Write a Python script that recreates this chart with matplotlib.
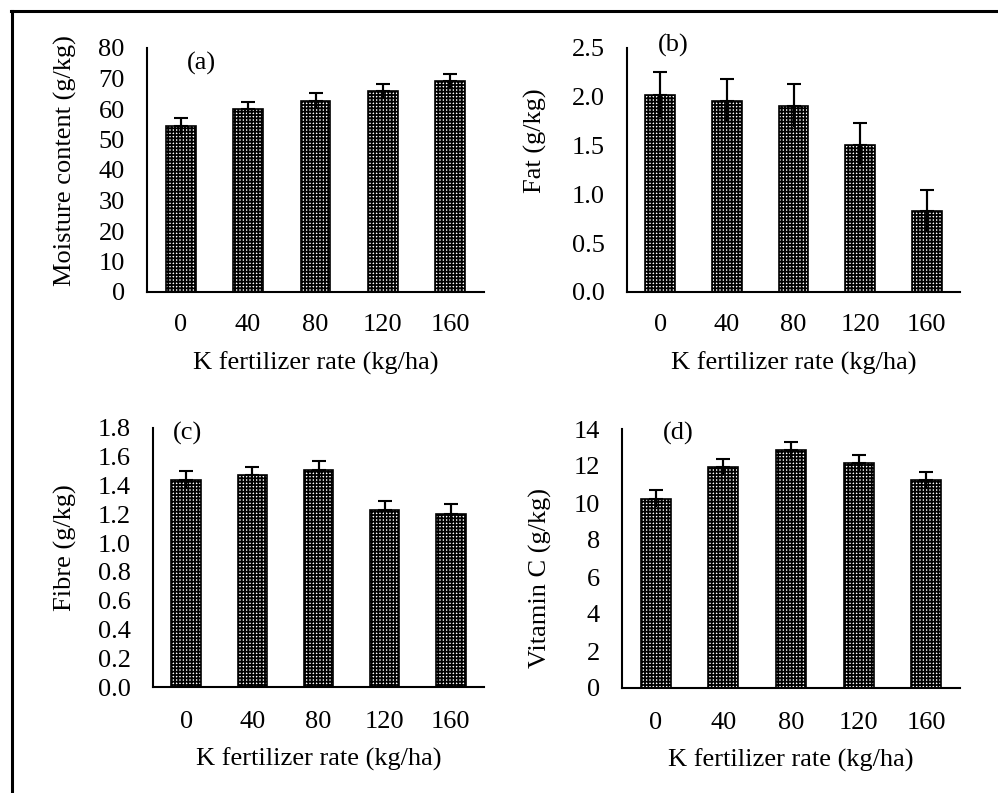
import matplotlib
matplotlib.use("Agg")
import matplotlib.pyplot as plt
from matplotlib.lines import Line2D
import numpy as np

plt.rcParams['font.family'] = ['Liberation Serif', 'DejaVu Serif']
plt.rcParams['hatch.linewidth'] = 1.3
plt.rcParams['hatch.color'] = 'black'

rates = ["0", "40", "80", "120", "160"]

moisture = [54.4, 60.0, 62.6, 65.9, 69.2]
moisture_err = [2.6, 2.4, 2.5, 2.4, 2.4]

fat = [2.02, 1.96, 1.91, 1.51, 0.83]
fat_err = [0.23, 0.22, 0.22, 0.22, 0.22]

fibre = [1.44, 1.47, 1.51, 1.23, 1.205]
fibre_err = [0.06, 0.06, 0.06, 0.065, 0.065]

vitc = [10.23, 11.95, 12.84, 12.14, 11.26]
vitc_err = [0.45, 0.44, 0.46, 0.47, 0.43]

panels = [
    dict(vals=moisture, err=moisture_err, ylabel="Moisture content (g/kg)", tag="(a)",
         ylim=(0, 80), yticks=np.arange(0, 81, 10), fmt="{:.0f}",
         rect=(147, 48, 484, 292), ylab=(-0.208, 0.537), tag_xy=(187, 63), xl_off=60, xpad=15.5),
    dict(vals=fat, err=fat_err, ylabel="Fat (g/kg)", tag="(b)",
         ylim=(0, 2.5), yticks=np.arange(0, 2.51, 0.5), fmt="{:.1f}",
         rect=(627, 48, 960, 292), ylab=(-0.240, 0.619), tag_xy=(658, 45), xl_off=60, xpad=15.5),
    dict(vals=fibre, err=fibre_err, ylabel="Fibre (g/kg)", tag="(c)",
         ylim=(0, 1.8), yticks=np.arange(0, 1.81, 0.2), fmt="{:.1f}",
         rect=(153, 428, 484, 687), ylab=(-0.230, 0.54), tag_xy=(173, 433), xl_off=61, xpad=17.5),
    dict(vals=vitc, err=vitc_err, ylabel="Vitamin C (g/kg)", tag="(d)",
         ylim=(0, 14), yticks=np.arange(0, 14.1, 2), fmt="{:.0f}",
         rect=(622, 429, 960, 688), ylab=(-0.207, 0.425), tag_xy=(663, 433), xl_off=61, xpad=17.5),
]

W, H = 998, 793
fig = plt.figure(figsize=(W / 100, H / 100), dpi=100)
FS = 19

for p in panels:
    x0, y0, x1, y1 = p["rect"]
    ax = fig.add_axes([x0 / W, 1 - y1 / H, (x1 - x0) / W, (y1 - y0) / H])
    x = np.arange(len(rates))
    ax.bar(x, p["vals"], width=0.445, color='white', edgecolor='black',
           hatch='+++++', linewidth=1.2, zorder=2)
    ax.errorbar(x, p["vals"], yerr=[p["err"], p["err"]], fmt='none',
                ecolor='black', elinewidth=1.5, capsize=0, zorder=3)
    ax.errorbar(x, p["vals"], yerr=[np.zeros(len(x)), p["err"]], fmt='none',
                ecolor='black', elinewidth=1.5, capsize=5, capthick=1.5, zorder=3)
    ax.set_xlim(-0.5, len(rates) - 0.5)
    ax.set_ylim(*p["ylim"])
    ax.set_yticks(p["yticks"])
    ax.set_yticklabels([p["fmt"].format(v) for v in p["yticks"]])
    ax.set_xticks(x)
    ax.set_xticklabels(rates)
    ax.tick_params(axis='both', length=0, labelsize=FS)
    ax.tick_params(axis='x', pad=p["xpad"])
    ax.tick_params(axis='y', pad=16)
    for s in ['top', 'right']:
        ax.spines[s].set_visible(False)
    for s in ['left', 'bottom']:
        ax.spines[s].set_linewidth(1.5)
    ax.set_ylabel(p["ylabel"], fontsize=FS)
    ax.yaxis.set_label_coords(*p["ylab"])
    ax.set_xlabel("K fertilizer rate (kg/ha)", fontsize=FS)
    ax.xaxis.set_label_coords(0.5, -p["xl_off"] / (y1 - y0))
    tx, ty = p["tag_xy"]
    fig.text(tx / W, 1 - ty / H, p["tag"], fontsize=FS, ha='left', va='center')

# outer frame (top and left edges visible)
fig.add_artist(Line2D([10.5 / W, 1.0], [1 - 10.5 / H, 1 - 10.5 / H], color='black', lw=2.2))
fig.add_artist(Line2D([11.5 / W, 11.5 / W], [0.0, 1 - 10.5 / H], color='black', lw=2.2))

fig.savefig("out.png", dpi=100, facecolor='white')
